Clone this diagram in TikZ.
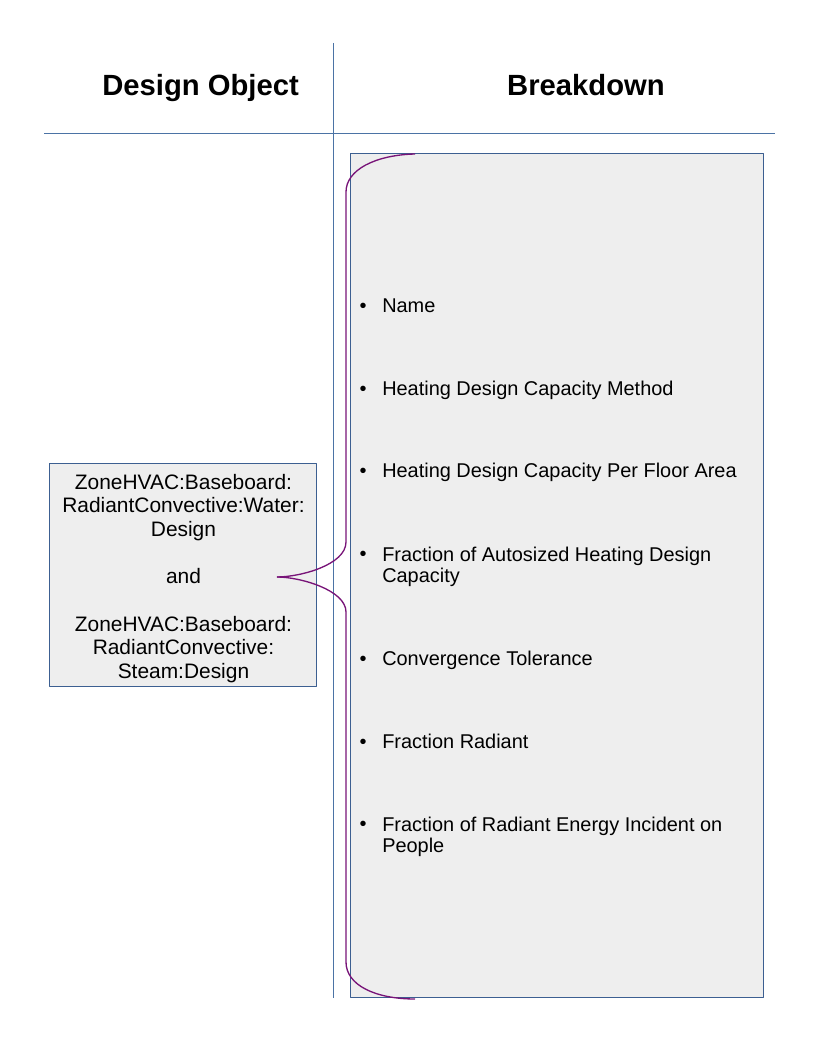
\documentclass[tikz,border=0pt]{standalone}
\usepackage{fontspec}
\setmainfont{Liberation Sans}
\definecolor{rulecol}{RGB}{75,115,165}
\definecolor{boxedge}{RGB}{60,95,145}
\definecolor{boxfill}{RGB}{238,238,238}
\definecolor{bracecol}{RGB}{120,20,120}
\begin{document}
\begin{tikzpicture}[line join=bevel,
  rule/.style={rulecol,line width=0.75pt},
  panel/.style={draw=boxedge,fill=boxfill,line width=0.75pt},
  head/.style={anchor=base,inner sep=0pt,font=\bfseries\fontsize{22}{24}\selectfont},
  objtext/.style={align=center,inner sep=0pt,font=\fontsize{15.75}{17.8}\selectfont},
  bul/.style={anchor=base,inner sep=0pt,font=\fontsize{15}{16.5}\selectfont},
  item/.style={anchor=base west,inner sep=0pt,align=left,font=\fontsize{15}{16.5}\selectfont},
  brace/.style={bracecol,line width=1pt}]
%%
\useasboundingbox (0bp,0bp) rectangle (612bp,792bp);
\draw [rule] (249.75bp,759.75bp) -- (249.75bp,43.5bp);
  \draw [rule] (33bp,691.5bp) -- (581.25bp,691.5bp);
  \node (head_obj) at (150.4bp,720bp) [head] {Design Object};
  \node (head_brk) at (439.5bp,720bp) [head] {Breakdown};
%
\node (panel_brk) at (262.5bp,43.5bp) [panel,anchor=south west,minimum width=309.75bp,minimum height=633bp,inner sep=0pt] {};
  \node (panel_obj) at (137.6bp,360.4bp) [panel,minimum width=200.25bp,minimum height=167.25bp,inner sep=0pt] {};
  \node (obj_text) at (137.6bp,358.2bp) [objtext] {ZoneHVAC:Baseboard:\\RadiantConvective:Water:\\Design\\[17.8pt]and\\[17.8pt]ZoneHVAC:Baseboard:\\RadiantConvective:\\Steam:Design};
%
\node (bul_0) at (272.25bp,557.25bp) [bul] {•};
  \node (item_0) at (286.5bp,557.25bp) [item] {Name};
  \node (bul_1) at (272.25bp,495bp) [bul] {•};
  \node (item_1) at (286.5bp,495bp) [item] {Heating Design Capacity Method};
  \node (bul_2) at (272.25bp,433.5bp) [bul] {•};
  \node (item_2) at (286.5bp,433.5bp) [item] {Heating Design Capacity Per Floor Area};
  \node (bul_3) at (272.25bp,371.25bp) [bul] {•};
  \node (item_3) at (286.5bp,354.75bp) [item] {Fraction of Autosized Heating Design\\Capacity};
  \node (bul_4) at (272.25bp,292.5bp) [bul] {•};
  \node (item_4) at (286.5bp,292.5bp) [item] {Convergence Tolerance};
  \node (bul_5) at (272.25bp,230.25bp) [bul] {•};
  \node (item_5) at (286.5bp,230.25bp) [item] {Fraction Radiant};
  \node (bul_6) at (272.25bp,168.75bp) [bul] {•};
  \node (item_6) at (286.5bp,152.25bp) [item] {Fraction of Radiant Energy Incident on\\People};
%
\coordinate (brace_top) at (311.25bp,676.5bp);
  \coordinate (brace_tip) at (207.75bp,359.25bp);
  \coordinate (brace_bot) at (311.25bp,42.75bp);
  \draw [brace] (brace_top) ..controls (281.25bp,675.75bp) and (259.5bp,664.5bp)  .. (259.5bp,648bp)
    -- (259.5bp,385.5bp) ..controls (259.5bp,368.25bp) and (225bp,359.25bp)  .. (brace_tip);
  \draw [brace] (brace_tip) ..controls (225bp,359.25bp) and (259.5bp,349.5bp)  .. (259.5bp,333bp)
    -- (259.5bp,70.5bp) ..controls (259.5bp,53.25bp) and (281.25bp,42.75bp)  .. (brace_bot);
%
\end{tikzpicture}
\end{document}
